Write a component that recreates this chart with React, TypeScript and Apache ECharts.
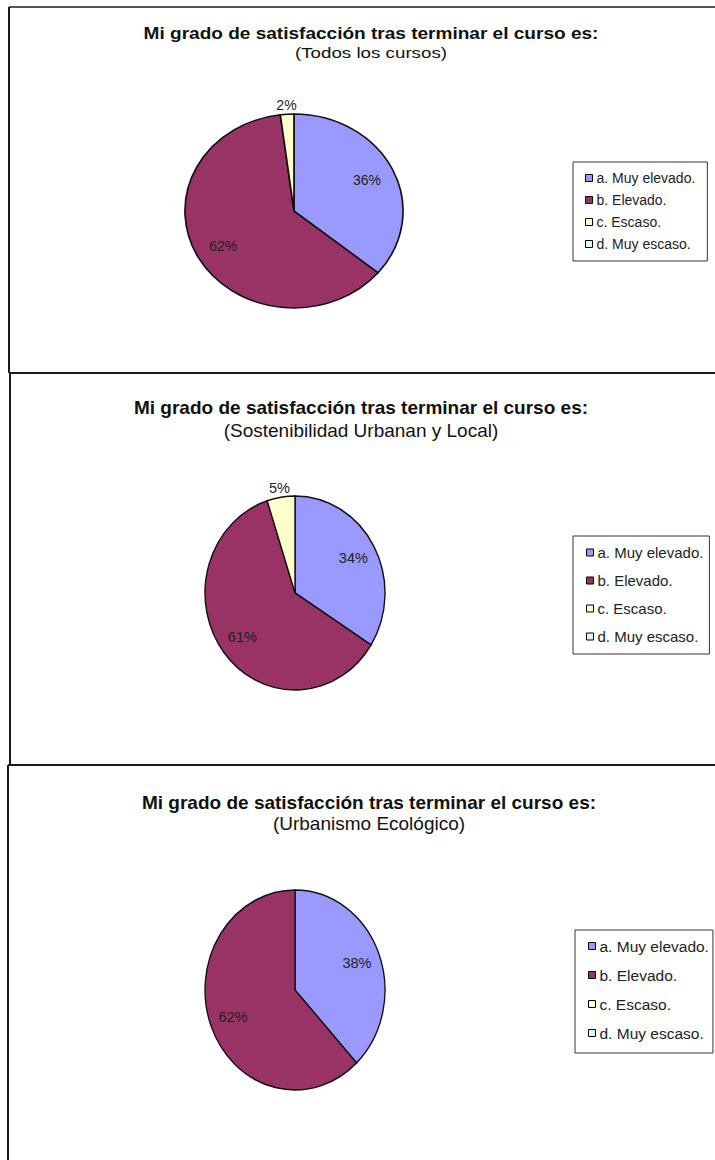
import React, { useEffect, useRef } from "react";
import * as echarts from "echarts";

// ---------- data ----------
const categories = ["a. Muy elevado.", "b. Elevado.", "c. Escaso.", "d. Muy escaso."];
const titleText = "Mi grado de satisfacción tras terminar el curso es:";
const subtitles = ["(Todos los cursos)", "(Sostenibilidad Urbanan y Local)", "(Urbanismo Ecológico)"];
const todosValues = [36, 62, 2, 0];
const sostenibilidadValues = [34, 61, 5, 0];
const urbanismoValues = [38, 62, 0, 0];
const panelValues = [todosValues, sostenibilidadValues, urbanismoValues];

// ---------- styles / layout ----------
const colors = ["#9999FF", "#993366", "#FFFFCC", "#CCFFFF"];
const FONT = "'Liberation Sans', Arial, sans-serif";
const layout = [
  {
    cx: 294, cy: 211, rx: 109, ry: 97, labelSize: 14,
    tx: 371, ty: 34, tSize: 16, tScale: 1.19,
    sy: 53, sSize: 15, sScale: 1.25,
    legend: { left: 573, top: 162, font: 14, gap: 8, pad: [9, 12, 10, 12] },
  },
  {
    cx: 295, cy: 593, rx: 90, ry: 97, labelSize: 14.5,
    tx: 361, ty: 407, tSize: 19, tScale: 1,
    sy: 430, sSize: 19, sScale: 1,
    legend: { left: 573, top: 536, font: 15, gap: 13, pad: [9, 6, 10, 13] },
  },
  {
    cx: 295, cy: 990, rx: 90, ry: 100, labelSize: 14.5,
    tx: 369, ty: 802, tSize: 19, tScale: 1,
    sy: 823, sSize: 19, sScale: 1,
    legend: { left: 575, top: 930, font: 15.5, gap: 13, pad: [8, 4, 12, 13] },
  },
];

function renderSlice(params: any, api: any) {
  const p = params.dataIndex;
  const k = params.seriesIndex;
  const vals = panelValues[p];
  const v = vals[k];
  if (!v) return null;
  const total = vals.reduce((s, x) => s + x, 0);
  let before = 0;
  for (let i = 0; i < k; i++) before += vals[i];
  const L = layout[p];
  const a0 = -Math.PI / 2 + (2 * Math.PI * before) / total;
  const a1 = a0 + (2 * Math.PI * v) / total;
  const mid = (a0 + a1) / 2;
  const frac = v / total;
  const lr = frac < 0.1 ? 1.1 : 0.74;
  const lx = L.cx + Math.cos(mid) * L.rx * lr;
  const ly = L.cy + Math.sin(mid) * L.ry * lr;
  return {
    type: "group",
    children: [
      {
        type: "sector",
        x: L.cx,
        y: L.cy,
        scaleX: L.rx / L.ry,
        scaleY: 1,
        shape: { cx: 0, cy: 0, r0: 0, r: L.ry, startAngle: a0, endAngle: a1, clockwise: true },
        style: { fill: colors[k], stroke: "#111", lineWidth: 1.5, strokeNoScale: true },
      },
      {
        type: "text",
        x: lx,
        y: ly,
        style: {
          text: Math.round(frac * 100) + "%",
          fill: "#222",
          font: `${L.labelSize}px ${FONT}`,
          align: "center",
          verticalAlign: "middle",
          textAlign: "center",
          textVerticalAlign: "middle",
        },
      },
    ],
  };
}

export default function App() {
  const ref = useRef<HTMLDivElement>(null);
  useEffect(() => {
    if (!ref.current) return;
    const chart = echarts.init(ref.current, undefined, { renderer: "svg" });

    const graphics: any[] = [];
    layout.forEach((L, p) => {
      graphics.push({
        type: "text",
        x: L.tx,
        y: L.ty,
        scaleX: L.tScale,
        style: {
          text: titleText,
          fill: "#111",
          font: `bold ${L.tSize}px ${FONT}`,
          align: "center",
          verticalAlign: "middle",
          textAlign: "center",
          textVerticalAlign: "middle",
        },
      });
      graphics.push({
        type: "text",
        x: L.tx,
        y: L.sy,
        scaleX: L.sScale,
        style: {
          text: subtitles[p],
          fill: "#111",
          font: `${L.sSize}px ${FONT}`,
          align: "center",
          verticalAlign: "middle",
          textAlign: "center",
          textVerticalAlign: "middle",
        },
      });
    });
    const lineStyle = { stroke: "#1a1a1a", lineWidth: 2 };
    // panel frames
    graphics.push(
      { type: "line", shape: { x1: 9, y1: 7, x2: 715, y2: 7 }, style: { stroke: "#1a1a1a", lineWidth: 1.5 } },
      { type: "line", shape: { x1: 9, y1: 7, x2: 9, y2: 373 }, style: lineStyle },
      { type: "line", shape: { x1: 9, y1: 373, x2: 715, y2: 373 }, style: lineStyle },
      { type: "line", shape: { x1: 10, y1: 373, x2: 10, y2: 765 }, style: lineStyle },
      { type: "line", shape: { x1: 8, y1: 765, x2: 715, y2: 765 }, style: lineStyle },
      { type: "line", shape: { x1: 8, y1: 765, x2: 8, y2: 1160 }, style: lineStyle }
    );

    const legends = layout.map((L) => ({
      orient: "vertical",
      left: L.legend.left,
      top: L.legend.top,
      padding: L.legend.pad,
      itemGap: L.legend.gap,
      itemWidth: 7,
      itemHeight: 7,
      icon: "rect",
      borderColor: "#333",
      borderWidth: 1,
      backgroundColor: "#fff",
      selectedMode: false,
      itemStyle: { borderColor: "#000", borderWidth: 1 },
      textStyle: { fontSize: L.legend.font, fontFamily: FONT, color: "#222", padding: [0, 0, 0, -1] },
      data: categories,
    }));

    const series = categories.map((name, k) => ({
      type: "custom",
      name,
      coordinateSystem: "none",
      itemStyle: { color: colors[k] },
      renderItem: renderSlice,
      data: panelValues.map((vals) => vals[k]),
      silent: true,
    }));

    chart.setOption({
      animation: false,
      backgroundColor: "#ffffff",
      legend: legends,
      graphic: graphics,
      series,
    });
    return () => chart.dispose();
  }, []);
  return (
    <div
      ref={ref}
      style={{ position: "absolute", left: 0, top: 0, width: 715, height: 1160 }}
    />
  );
}
